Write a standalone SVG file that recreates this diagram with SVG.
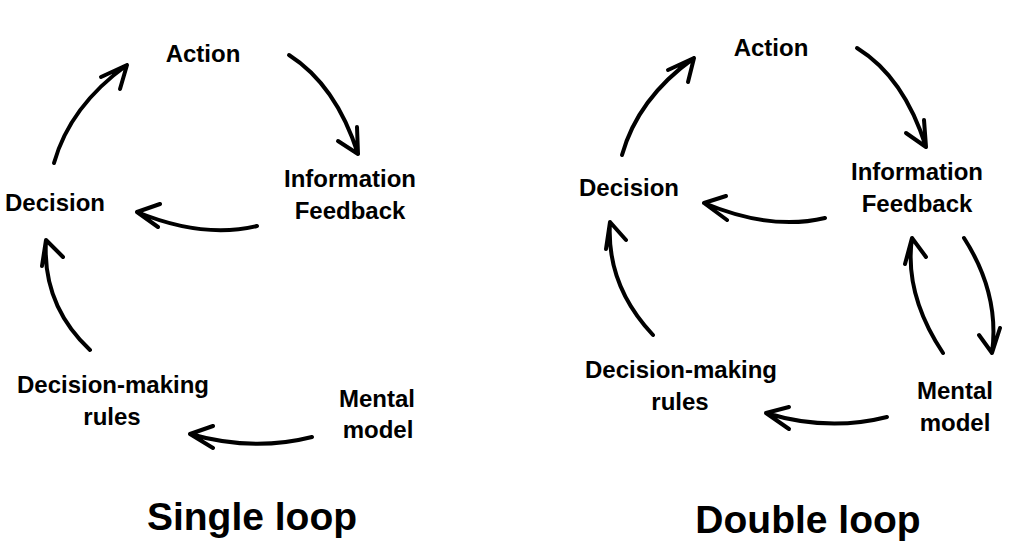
<svg xmlns="http://www.w3.org/2000/svg" width="1024" height="554" viewBox="0 0 1024 554">
<style>
.lbl{font-family:"Liberation Sans",Arial,sans-serif;font-weight:700;font-size:24px;fill:#000;text-anchor:middle}
.ttl{font-family:"Liberation Sans",Arial,sans-serif;font-weight:700;font-size:39px;fill:#000;text-anchor:middle}
.arr{fill:none;stroke:#000;stroke-width:4;stroke-linecap:round;stroke-linejoin:round}
</style>
<rect width="1024" height="554" fill="#fff"/>
<g id="single-loop">
  <g id="s-action"><text class="lbl" x="203" y="62">Action</text></g>
  <g id="s-info"><text class="lbl" x="350" y="187">Information</text><text class="lbl" x="350" y="219">Feedback</text></g>
  <g id="s-decision"><text class="lbl" x="55" y="211">Decision</text></g>
  <g id="s-rules"><text class="lbl" x="113" y="393">Decision-making</text><text class="lbl" x="112" y="425">rules</text></g>
  <g id="s-mental"><text class="lbl" x="377" y="407">Mental</text><text class="lbl" x="378" y="438">model</text></g>
  <g id="s-title"><text class="ttl" x="252" y="530">Single loop</text></g>
</g>
<g id="double-loop">
  <g id="d-action"><text class="lbl" x="771" y="56">Action</text></g>
  <g id="d-info"><text class="lbl" x="917" y="180">Information</text><text class="lbl" x="917" y="212">Feedback</text></g>
  <g id="d-decision"><text class="lbl" x="629" y="196">Decision</text></g>
  <g id="d-rules"><text class="lbl" x="681" y="378">Decision-making</text><text class="lbl" x="680" y="410">rules</text></g>
  <g id="d-mental"><text class="lbl" x="955" y="399">Mental</text><text class="lbl" x="955" y="431">model</text></g>
  <g id="d-title"><text class="ttl" x="808" y="533">Double loop</text></g>
</g>
<g id="connectors">
  <!-- single loop -->
  <path class="arr" d="M54,163 Q70,106 127,65 M101,77 L127,65 L120,89"/>
  <path class="arr" d="M289,55 Q336,85 358,154 M338,141 L358,154 L357,127"/>
  <path class="arr" d="M257,226 Q203,239 137,212 M160,204 L137,212 L158,227"/>
  <path class="arr" d="M90,350 Q42,305 46,240 M42,266 L46,240 L63,257"/>
  <path class="arr" d="M312,437 Q253,452 190,434 M213,426 L190,434 L213,448"/>
  <!-- double loop -->
  <path class="arr" d="M622,155 Q638,98 694,58 M668,70 L694,58 L688,82"/>
  <path class="arr" d="M857,48 Q904,77 926,147 M906,133 L926,147 L924,120"/>
  <path class="arr" d="M825,218 Q771,231 704,203 M726,196 L704,203 L727,220"/>
  <path class="arr" d="M653,335 Q606,285 610,222 M606,249 L610,222 L626,240"/>
  <path class="arr" d="M943,353 Q904,294 912,238 M905,264 L912,238 L926,257"/>
  <path class="arr" d="M964,238 Q1000,294 992,353 M979,335 L992,353 L1000,328"/>
  <path class="arr" d="M887,417 Q828,432 766,413 M789,407 L766,413 L789,429"/>
</g>
</svg>
